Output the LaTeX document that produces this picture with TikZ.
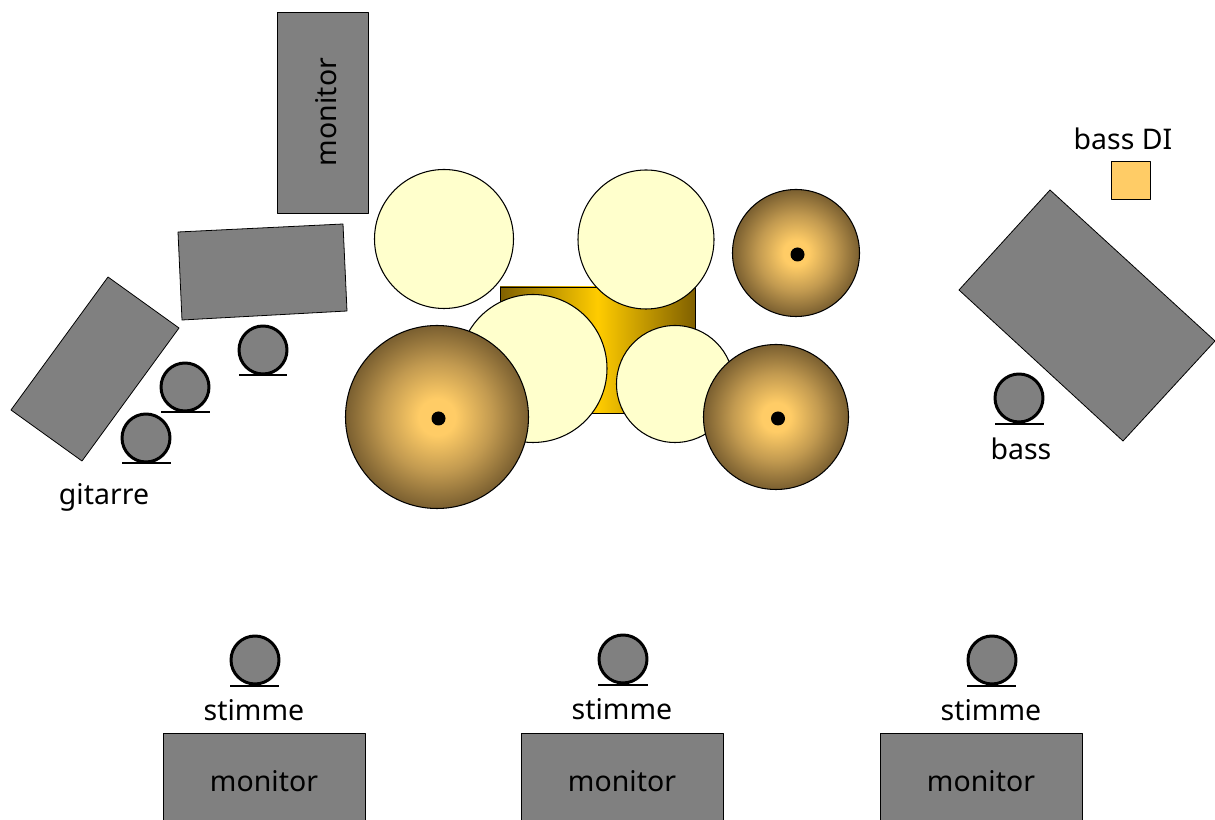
\documentclass[tikz,border=0pt]{standalone}
\usepackage{fontspec}
\setmainfont{Noto Sans}
\usetikzlibrary{calc}
\definecolor{boxgray}{HTML}{808080}
\definecolor{creamdrum}{HTML}{FFFFCC}
\definecolor{cymbalin}{HTML}{FFCC66}
\definecolor{cymbalout}{HTML}{7A5F30}
\definecolor{cymbalhalf}{HTML}{C29A50}
\definecolor{kickdark}{HTML}{806000}
\definecolor{kickmid}{HTML}{FFCC00}
\pgfdeclareradialshading{cymbalshade}{\pgfpoint{0bp}{0bp}}{color(0bp)=(cymbalin); color(5bp)=(cymbalin); color(15bp)=(cymbalhalf); color(25bp)=(cymbalout); color(50bp)=(cymbalout)}
\begin{document}
\begin{tikzpicture}[line cap=round,line join=round,x=0.02cm,y=-0.02cm,
    amp/.style={line width=0.45pt,fill=boxgray},
    drum/.style={line width=0.6pt,fill=creamdrum},
    cymbal/.style={line width=0.6pt,shading=cymbalshade},
    person/.style={line width=1.7pt,fill=boxgray},
    stand/.style={line width=1.7pt,line cap=butt},
    label/.style={font=\fontsize{16.2}{20}\selectfont,inner sep=0pt}]
    \useasboundingbox (0,0) rectangle (1215,820);
    % monitors and amps
    \draw [amp] (277,12) rectangle (368,213);
    \draw [amp] (178,232)-- (343,224)-- (347,311)-- (182,320)-- cycle;
    \draw [amp] (108,277)-- (179,328)-- (82,461)-- (11,410)-- cycle;
    \draw [amp] (1050,190)-- (1215,341)-- (1123,441)-- (959,290)-- cycle;
    \draw [amp] (163,733) rectangle (365,830);
    \draw [amp] (521,733) rectangle (723,830);
    \draw [amp] (880,733) rectangle (1082,830);
    \draw [line width=0.45pt,fill=cymbalin] (1111,161) rectangle (1150,199);
    % drums
    \draw [line width=0.45pt,left color=kickdark,right color=kickdark,middle color=kickmid] (500,287) rectangle (695,413);
    \draw [drum] (444,239) circle (69.5);
    \draw [drum] (646,239.5) ellipse (68 and 69.5);
    \draw [drum] (533,368.5) circle (74);
    \draw [drum] (675,384) circle (58.5);
    \draw [cymbal] (796,253) circle (63.5);
    \draw [cymbal] (437,417) circle (91.5);
    \draw [cymbal] (776,417) circle (72.5);
    \fill (797.5,254.5) circle (7);
    \fill (438.5,418.5) circle (7);
    \fill (778,418.5) circle (7);
    % players
    \draw [person] (263,350) circle (24);
    \draw [stand] (239,375)-- (287,375);
    \draw [person] (185,387) circle (24);
    \draw [stand] (161,412)-- (210,412);
    \draw [person] (146,438) circle (24);
    \draw [stand] (122,463)-- (171,463);
    \draw [person] (1019,398) circle (24);
    \draw [stand] (995,424)-- (1044,424);
    \draw [person] (255,660) circle (24);
    \draw [stand] (230,686)-- (279,686);
    \draw [person] (623,659) circle (24);
    \draw [stand] (598,685)-- (648,685);
    \draw [person] (992,660) circle (24);
    \draw [stand] (967,686)-- (1016,686);
    % labels
    \node [label,rotate=90] (monitortop) at (326,112) {monitor};
    \node [label] (gitarrelabel) at (104,497) {gitarre};
    \node [label] (bassdilabel) at (1123,139) {bass DI};
    \node [label] (basslabel) at (1021,449) {bass};
    \node [label] (stimmeleft) at (254,710) {stimme};
    \node [label] (stimmemid) at (622,709) {stimme};
    \node [label] (stimmeright) at (991,710) {stimme};
    \node [label] (monitorleft) at (264,781) {monitor};
    \node [label] (monitormid) at (622,781) {monitor};
    \node [label] (monitorright) at (981,781) {monitor};
\end{tikzpicture}
\end{document}
